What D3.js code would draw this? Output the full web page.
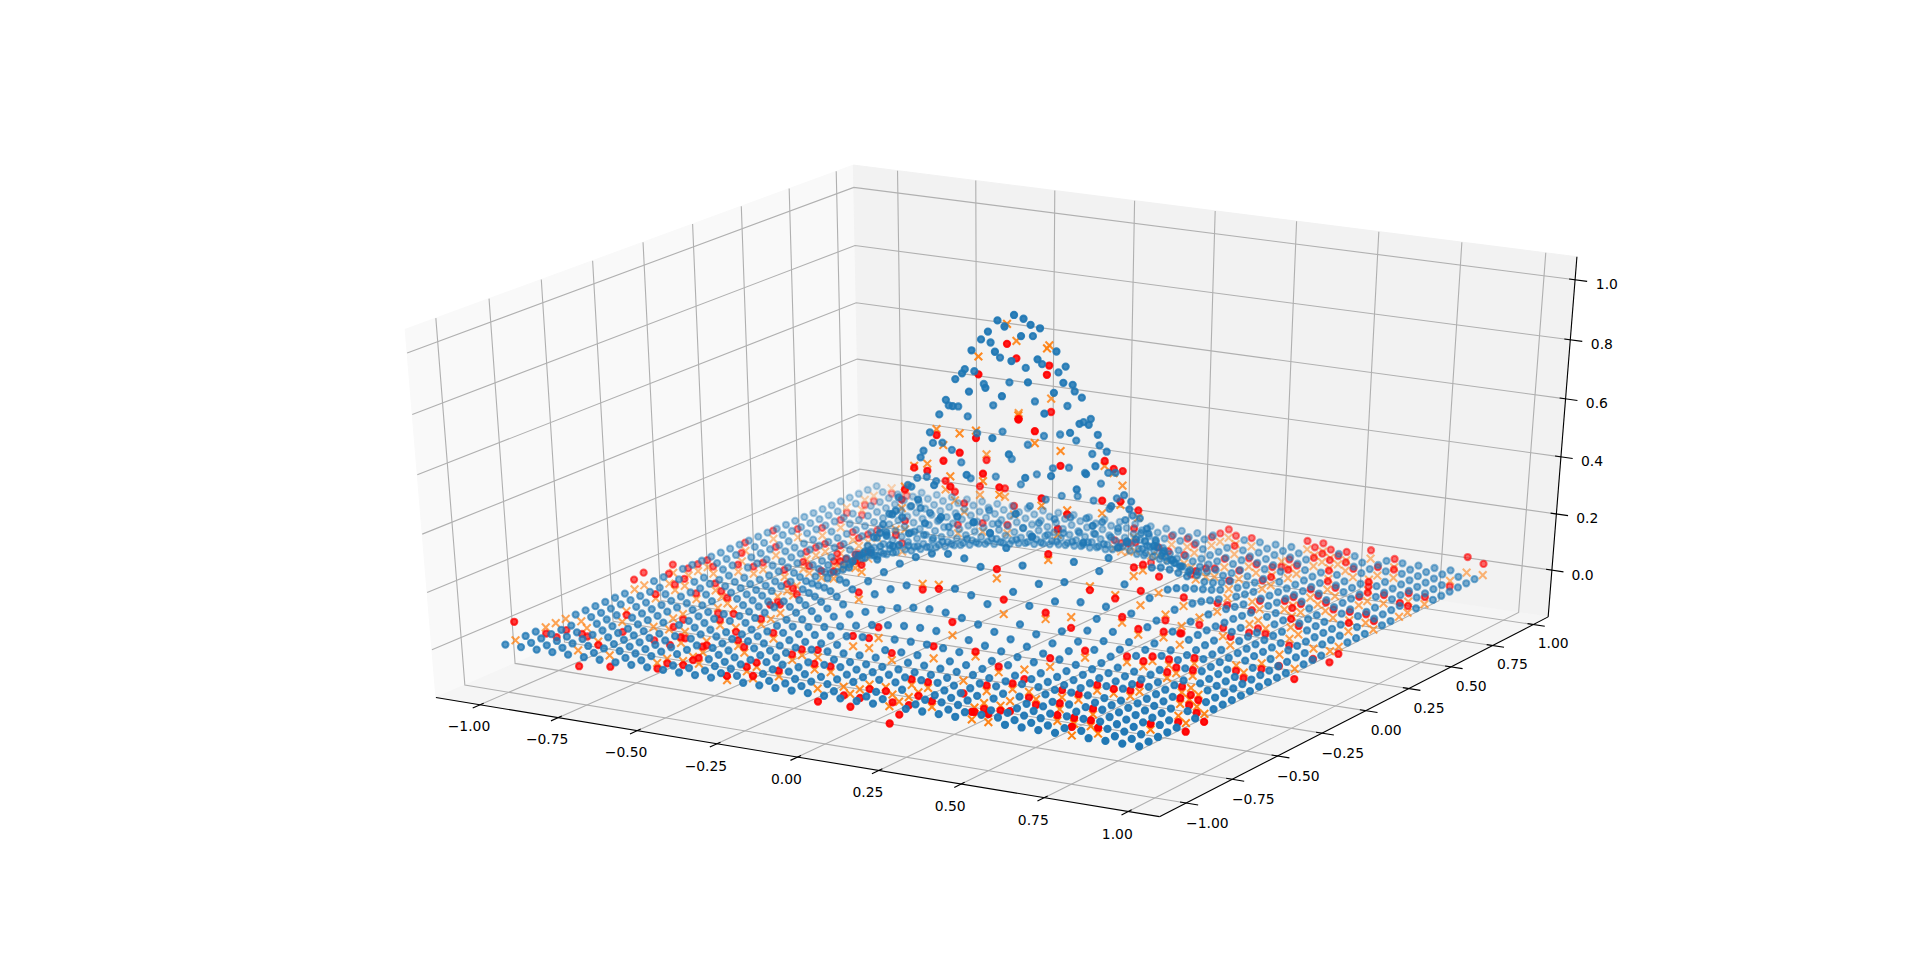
<!DOCTYPE html>
<html><head><meta charset="utf-8">
<script src="https://cdn.jsdelivr.net/npm/d3@7/dist/d3.min.js"></script>
<style>html,body{margin:0;padding:0;background:#fff}svg{display:block}text{font-family:"DejaVu Sans",sans-serif;font-size:13.9px;fill:#000}</style>
</head><body><svg id="c" width="1914" height="969"></svg>
<script>
// grid coordinates
const gridX=[-1,-.95,-.9,-.85,-.8,-.75,-.7,-.65,-.6,-.55,-.5,-.45,-.4,-.35,-.3,-.25,-.2,-.15,-.1,-.05,0,.05,.1,.15,.2,.25,.3,.35,.4,.45,.5,.55,.6,.65,.7,.75,.8,.85,.9,.95];
const gridY=gridX.slice();
// surface heights by distance in grid steps from the peak (the surface is mirror-symmetric)
const zRows=[
[1,.975,.905,.799,.670,.535,.407,.294,.202,.132,.082,.049,.027,.015,.007,.004,.002,.001],
[.975,.951,.882,.779,.653,.522,.397,.287,.197,.129,.080,.048,.026,.015,.007,.004,.002,.001],
[.905,.882,.819,.723,.606,.484,.368,.266,.183,.119,.074,.044,.024,.014,.006,.004,.002,.001],
[.799,.779,.723,.638,.535,.427,.325,.235,.161,.105,.066,.039,.022,.012,.006,.003,.002,.001],
[.670,.653,.606,.535,.449,.358,.273,.197,.135,.088,.055,.033,.018,.010,.005,.003,.001,.001],
[.535,.522,.484,.427,.358,.286,.218,.157,.108,.071,.044,.026,.014,.008,.004,.002,.001],
[.407,.397,.368,.325,.273,.218,.166,.120,.082,.054,.033,.020,.011,.006,.003,.002,.001],
[.294,.287,.266,.235,.197,.157,.120,.086,.059,.039,.024,.014,.008,.004,.002,.001],
[.202,.197,.183,.161,.135,.108,.082,.059,.041,.027,.017,.010,.005,.003,.001,.001],
[.132,.129,.119,.105,.088,.071,.054,.039,.027,.017,.011,.006,.004,.002,.001],
[.082,.080,.074,.066,.055,.044,.033,.024,.017,.011,.007,.004,.002,.001,.001],
[.049,.048,.044,.039,.033,.026,.020,.014,.010,.006,.004,.002,.001,.001],
[.027,.026,.024,.022,.018,.014,.011,.008,.005,.004,.002,.001,.001],
[.015,.015,.014,.012,.010,.008,.006,.004,.003,.002,.001,.001],
[.007,.007,.006,.006,.005,.004,.003,.002,.001,.001,.001],
[.004,.004,.004,.003,.003,.002,.002,.001,.001],
[.002,.002,.002,.002,.001,.001,.001],
[.001,.001,.001,.001,.001]];
// held-out cells: [x index, y index, red value minus orange value]
const testCells=[[0,1,.065],[0,4,-.022],[0,5,-.05],[0,6,-.04],[1,6,-.045],[2,5,-.03],[4,1,-.056],[4,3,-.012],[6,1,-.04],[3,7,-.035],[2,9,-.014],[0,13,.035],[0,14,.045],[9,1,-.02],[9,2,-.017],[10,2,-.014],[10,3,-.012],[5,7,-.048],[6,7,-.055],[5,9,-.03],[5,10,-.02],[7,7,-.023],[1,15,.035],[2,14,.02],[2,12,.015],[9,6,-.015],[14,0,.015],[14,2,.016],[15,1,.008],[14,3,.015],[10,12,.03],[10,11,.05],[8,15,-.02],[7,12,-.015],[6,12,-.02],[9,9,-.015],[8,17,-.03],
[11,2,.02],[10,4,.02],[11,6,.02],[12,5,.02],[16,2,.02],[12,8,.02],[10,10,.02],[4,13,.02],[5,14,.02],[6,13,.02],[8,5,.02],[8,9,.02],
[1,18,.025],[2,18,.025],[3,19,.025],[4,19,.025],[4,20,.025],[4,15,.025],[6,19,.025],[0,17,.03],[2,15,.025],[1,17,.025],[1,19,.025],[1,26,.03],[1,23,.03],[2,21,.03],[2,27,.03],[3,23,.03],
[1,34,-.02],[1,36,-.02],[1,37,-.02],[1,39,-.02],[2,34,-.02],[2,39,-.02],[3,28,.028],[3,30,.028],[5,28,.028],[6,29,.028],[6,28,.028],[5,23,.028],[5,24,.028],[5,25,.028],[7,23,.028],[6,25,.028],[6,27,.028],[9,23,.025],[9,22,.025],[9,20,.025],
[23,13,.032],[19,12,-.02],[20,12,-.014],[15,12,.025],[22,10,.046],[18,9,.038],[24,12,.05],[26,13,.022],[27,14,-.037],[27,16,-.013],[28,17,-.012],[28,19,.03],[29,20,.057],[29,18,.05],[30,19,-.02],[32,17,.04],[28,20,.02],[30,16,.02],[27,9,-.034],[28,10,.03],[24,9,.017],[22,8,.042],[20,7,.025],
[15,5,.02],[15,6,.02],[16,6,.026],[17,8,.036],[18,8,.035],[19,1,-.045],[20,2,-.03],[21,1,-.045],[21,2,-.03],[21,3,-.016],[22,3,-.014],[23,2,-.027],[24,0,-.06],[24,1,-.045],[24,2,-.028],[24,3,-.012],[25,6,-.045],[26,8,.02],[27,5,.02],[28,6,.02],[29,6,-.02],[30,5,-.02],[31,6,.025],[32,6,.02],[32,8,.02],[33,8,.016],[34,9,.025],[29,12,.024],[31,13,.02],[32,13,.018],[32,14,.016],[33,14,.02],[29,0,.026],[30,0,.028],[28,2,-.015],[28,3,-.02],[29,3,-.017],[29,4,-.035],[33,2,.02],[35,0,.03],[36,1,.02],[38,3,.02],[39,5,-.03],[37,8,.02],
[23,4,.02],[24,4,.02],[17,4,.02],[18,4,.02],[26,1,.02],[32,4,.02],[34,2,.02],[35,2,.02],[34,4,.02],[34,8,.02],[34,12,.02],[34,13,.02],[35,13,.02],[36,10,.02],[31,17,.02],[34,15,.02],[29,16,.02],
[39,7,-.028],[38,8,-.022],[37,10,-.018],[38,6,-.022],[37,9,-.02],[36,11,-.025],[39,17,-.036],[39,21,-.039],[39,22,-.025],[38,21,-.036],[39,26,.03],[39,29,.049],[39,30,.023],[39,32,.025],[38,37,-.02],[38,39,.056],[39,39,.04],
[33,20,.03],[34,19,.03],[33,23,-.03],[33,24,-.028],[34,23,-.02],[36,16,-.02],[37,15,-.02],[37,17,-.02],[37,19,-.04],[36,22,-.024],[35,24,.03],[36,23,.03],[38,25,.03],[38,27,.03],[36,27,.03],[37,27,.03],[34,26,.03],[34,27,.03],[35,28,.03],[34,31,.03],[36,30,.03],[36,31,.03],[37,31,.03],[38,32,.03],[33,30,.03],[34,29,.03],[33,27,.03],[33,28,.03],[30,30,.03],[30,31,.03],[30,33,.03],[33,32,.03],[30,34,.03],[30,36,.03],[30,37,.03],[29,39,.03],[28,39,.03],[29,38,.03],[31,38,.03],[32,39,.03],[32,36,.03],[34,38,.03],[31,36,.03],[31,37,.03],[30,38,.03],[34,36,.03],[35,36,.03],[34,35,-.025],[32,34,.03],[35,33,.03],[33,35,.03],[25,38,.03],[23,39,.03],[23,38,.03],[23,37,.03],[24,38,.03],[25,36,.03],[27,34,.03],[29,35,.03],[28,36,-.02],[26,33,.03],[28,31,.03],[28,33,.03],[29,33,.03],[27,29,.03],[27,30,.03],[29,28,.03],[28,26,.03],[30,26,-.025],[31,27,-.03],[32,26,.03],[31,21,-.025],[31,23,.03],[30,21,.03],[31,19,-.025],
[21,36,.03],[22,36,.03],[23,35,.03],[23,32,.03],[25,31,-.025],[24,32,.03],[23,28,.03],[23,30,-.025],[24,29,.03],[19,33,.03],[20,32,.03],[21,31,.03],[22,30,.03],[25,15,.02],[26,23,.025],[25,16,.02],
[19,21,-.066],[19,22,-.058],[21,22,-.067],[22,20,-.087],[19,18,-.059],[22,17,-.014],[20,24,-.045],[19,16,-.065],[20,16,-.025],[18,16,-.053],[24,18,-.05],[23,17,.04],[19,15,-.035],[17,16,-.024],[15,18,-.006],[15,17,-.01],[25,22,.014],[25,21,.017],[25,23,.05],[26,21,.012],[26,19,.043],[25,17,-.014],[18,24,-.02],[16,24,-.02],[17,17,-.02],[21,15,.025],[22,15,.025],[24,16,.025],
[13,20,.03],[14,23,.03],[14,24,.03],[15,25,.03],[16,26,.03],[16,27,.03],[14,25,.03],[14,27,.03],[15,28,.03],[13,26,.03],[12,22,.03],[12,21,-.02],[14,14,.025],[13,15,.025],[11,16,.025],[9,18,.025],[10,25,.03],
[6,21,.025],[7,20,.025],[8,21,.025],[10,19,.025],[10,20,.025],[8,16,.025],[9,15,.025]];
const xTickValues=[-1,-.75,-.5,-.25,0,.25,.5,.75,1];
const yTickValues=xTickValues.slice();
const zTickValues=[0,.2,.4,.6,.8,1];
const xTickLabels=["−1.00","−0.75","−0.50","−0.25","0.00","0.25","0.50","0.75","1.00"];
const yTickLabels=xTickLabels.slice();
const zTickLabels=["0.0","0.2","0.4","0.6","0.8","1.0"];
const xLimits=[-1.0975,1.0475], yLimits=[-1.0975,1.0475], zLimits=[-.144,1.051];

const sx=d3.scaleLinear().domain(xLimits).range([0,1]);
const sy=d3.scaleLinear().domain(yLimits).range([0,1]);
const sz=d3.scaleLinear().domain(zLimits).range([0,1]);
const W=1914,H=969;
const px=d3.scaleLinear().domain([-.095,.09]).range([.125*W,.9*W]);
const py=d3.scaleLinear().domain([-.095,.09]).range([H-.11*H,H-.88*H]);
const dist=10,el=30*Math.PI/180,az=-60*Math.PI/180;
const n=[Math.cos(el)*Math.cos(az),Math.cos(el)*Math.sin(az),Math.sin(el)];
const un=Math.hypot(n[1],n[0]);
const u=[-n[1]/un,n[0]/un,0];
const v=[n[1]*u[2]-n[2]*u[1],n[2]*u[0]-n[0]*u[2],n[0]*u[1]-n[1]*u[0]];
const dot=(a,b)=>a[0]*b[0]+a[1]*b[1]+a[2]*b[2];
function project(x,y,z){
  const d=[sx(x)-.5,sy(y)-.5,sz(z)-.5];
  const depth=dist-dot(n,d);
  return {x:px(dot(u,d)/depth),y:py(dot(v,d)/depth),depth};
}
const deltaX=(xLimits[1]-xLimits[0])/12,deltaY=(yLimits[1]-yLimits[0])/12,deltaZ=(zLimits[1]-zLimits[0])/12;
const xm=xLimits[0]-deltaX/4,xM=xLimits[1]+deltaX/4,ym=yLimits[0]-deltaY/4,yM=yLimits[1]+deltaY/4,zm=zLimits[0]-deltaZ/4,zM=zLimits[1]+deltaZ/4;
const svg=d3.select("#c");
const line=d3.line().x(d=>d.x).y(d=>d.y);
const P=a=>a.map(p=>project(...p));

// panes
[{c:"#f9f9f9",p:[[xm,ym,zm],[xm,yM,zm],[xm,yM,zM],[xm,ym,zM]]},
 {c:"#f2f2f2",p:[[xm,yM,zm],[xM,yM,zm],[xM,yM,zM],[xm,yM,zM]]},
 {c:"#f5f5f5",p:[[xm,ym,zm],[xM,ym,zm],[xM,yM,zm],[xm,yM,zm]]}].forEach(q=>{
  svg.append("path").attr("d",line(P(q.p))+"Z").attr("fill",q.c).attr("stroke",q.c).attr("stroke-width",1);
});
// grid
const gridLines=[
 ...xTickValues.map(t=>[[t,ym,zm],[t,yM,zm],[t,yM,zM]]),
 ...yTickValues.map(t=>[[xM,t,zm],[xm,t,zm],[xm,t,zM]]),
 ...zTickValues.map(t=>[[xm,ym,t],[xm,yM,t],[xM,yM,t]])];
svg.append("g").selectAll("path").data(gridLines).join("path")
 .attr("d",d=>line(P(d))).attr("fill","none").attr("stroke","#b0b0b0").attr("stroke-width",1.11);
// axis lines
[[[xm,ym,zm],[xM,ym,zm]],[[xM,ym,zm],[xM,yM,zm]],[[xM,yM,zm],[xM,yM,zM]]].forEach(a=>{
  svg.append("path").attr("d",line(P(a))).attr("stroke","#000").attr("stroke-width",1.11).attr("fill","none");
});
// ticks and labels
const lf=(3.5+8)*48/(72*(.775*W/100+.77*H/100));
function tickSet(vals,labels,mk,lab){
  vals.forEach((t,k)=>{
    const [a,b]=mk(t);
    svg.append("path").attr("d",line(P([a,b]))).attr("stroke","#000").attr("stroke-width",1.11);
    const l=project(...lab(t));
    svg.append("text").attr("x",l.x+.8).attr("y",l.y+6.5).attr("text-anchor","middle").attr("dominant-baseline","central").text(labels[k]);
  });
}
tickSet(xTickValues,xTickLabels,t=>[[t,ym-.2*deltaY,zm],[t,ym+.1*deltaY,zm]],t=>[t,ym-lf*deltaY,zm-lf*deltaZ]);
tickSet(yTickValues,yTickLabels,t=>[[xM+.2*deltaX,t,zm],[xM-.1*deltaX,t,zm]],t=>[xM+lf*deltaX,t,zm-lf*deltaZ]);
tickSet(zTickValues,zTickLabels,t=>[[xM+.2*deltaX,yM,t],[xM-.1*deltaX,yM,t]],t=>[xM+lf*deltaX,yM+lf*deltaY,t]);

// data
const zAt=(i,j)=>{const r=zRows[Math.abs(i-20)];return (r&&r[Math.abs(j-20)])||0;};
const key=(i,j)=>i*100+j;
const seen=new Set();
const tests=testCells.filter(c=>{const k=key(c[0],c[1]);if(seen.has(k))return false;seen.add(k);return true;});
const blue=[];
gridX.forEach((x,i)=>gridY.forEach((y,j)=>{if(!seen.has(key(i,j)))blue.push([x,y,zAt(i,j)]);}));
const orange=tests.map(c=>[gridX[c[0]],gridY[c[1]],zAt(c[0],c[1])]);
const red=tests.map(c=>[gridX[c[0]],gridY[c[1]],zAt(c[0],c[1])+c[2]]);
function shaded(a){
  const pts=a.map(p=>project(...p));
  const sc=d3.scaleLinear().domain(d3.extent(pts,p=>p.depth)).range([1,.3]);
  pts.forEach(p=>p.a=sc(p.depth));
  return pts.sort((p,q)=>q.depth-p.depth);
}
const R=Math.sqrt(20)/2*100/72,LW=1.5*100/72;
svg.append("g").selectAll("path").data(shaded(orange)).join("path")
 .attr("d",`M${-R} ${-R}L${R} ${R}M${-R} ${R}L${R} ${-R}`)
 .attr("transform",d=>`translate(${d.x},${d.y})`).attr("fill","none")
 .attr("stroke","#ff7f0e").attr("stroke-width",LW).attr("stroke-linecap","square").attr("stroke-opacity",d=>d.a);
function dots(a,c){
  svg.append("g").selectAll("circle").data(shaded(a)).join("circle")
  .attr("cx",d=>d.x).attr("cy",d=>d.y).attr("r",R)
  .attr("fill",c).attr("fill-opacity",d=>d.a)
  .attr("stroke",c).attr("stroke-opacity",d=>d.a).attr("stroke-width",LW);
}
dots(red,"#ff0000");
dots(blue,"#1f77b4");
</script></body></html>
